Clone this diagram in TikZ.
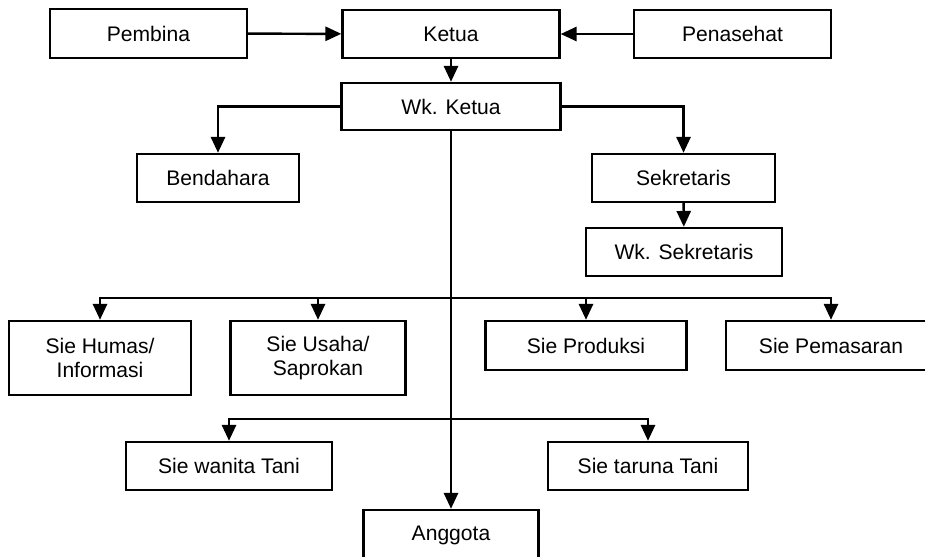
\documentclass[tikz,border=0pt]{standalone}
\usepackage{fontspec}
\setmainfont{Liberation Sans}
\usetikzlibrary{arrows.meta}

\begin{document}
\begin{tikzpicture}[x=0.02cm, y=-0.02cm, line width=1.4pt,
		kotak/.style={draw, rectangle, inner sep=0pt, align=center, font=\fontsize{12}{14}\selectfont},
		panah/.style={-{Triangle[length=9pt, width=8pt]}}]
	\useasboundingbox (0,0) rectangle (925,556);
	% pengurus inti
	\node[kotak, minimum width=3.94cm, minimum height=0.98cm] (pembina) at (148.5,33.5) {Pembina};
	\node[kotak, minimum width=4.34cm, minimum height=0.96cm] (ketua) at (451,34) {Ketua};
	\node[kotak, minimum width=3.94cm, minimum height=0.96cm] (penasehat) at (732.5,34) {Penasehat};
	\node[kotak, minimum width=4.38cm, minimum height=0.94cm] (wkketua) at (451,106.5) {Wk. Ketua};
	\node[kotak, minimum width=3.24cm, minimum height=0.96cm] (bendahara) at (218,178) {Bendahara};
	\node[kotak, minimum width=3.66cm, minimum height=0.96cm] (sekretaris) at (683.5,178) {Sekretaris};
	\node[kotak, minimum width=3.92cm, minimum height=0.96cm] (wksekretaris) at (684,252) {Wk. Sekretaris};
	% seksi
	\node[kotak, minimum width=3.64cm, minimum height=1.48cm] (humas) at (100,358) {Sie Humas/\\Informasi};
	\node[kotak, minimum width=3.50cm, minimum height=1.48cm] (usaha) at (318,358) {Sie Usaha/\\Saprokan};
	\node[kotak, minimum width=4.02cm, minimum height=0.98cm] (produksi) at (586,345.5) {Sie Produksi};
	\node[kotak, minimum width=4.20cm, minimum height=0.98cm] (pemasaran) at (831,345.5) {Sie Pemasaran};
	\node[kotak, minimum width=4.12cm, minimum height=0.96cm] (wanita) at (229,466) {Sie wanita Tani};
	\node[kotak, minimum width=4.00cm, minimum height=0.96cm] (taruna) at (648,466) {Sie taruna Tani};
	\node[kotak, minimum width=3.50cm, minimum height=1.00cm] (anggota) at (451,535) {Anggota};
	% garis komando
	\draw[panah] (pembina) -- (ketua);
	\draw[panah] (penasehat) -- (ketua);
	\draw[panah] (ketua) -- (wkketua);
	\draw[panah] (wkketua.west) -| (bendahara.north);
	\draw[panah] (wkketua.east) -| (sekretaris.north);
	\draw[panah] (sekretaris) -- (wksekretaris);
	\draw[panah] (wkketua) -- (anggota);
	\coordinate (bus) at (451,298);
	\coordinate (bustani) at (451,419);
	\foreach \s in {humas,usaha,produksi,pemasaran}
		\draw[panah] (bus) -| (\s.north);
	\foreach \s in {wanita,taruna}
		\draw[panah] (bustani) -| (\s.north);
\end{tikzpicture}
\end{document}
